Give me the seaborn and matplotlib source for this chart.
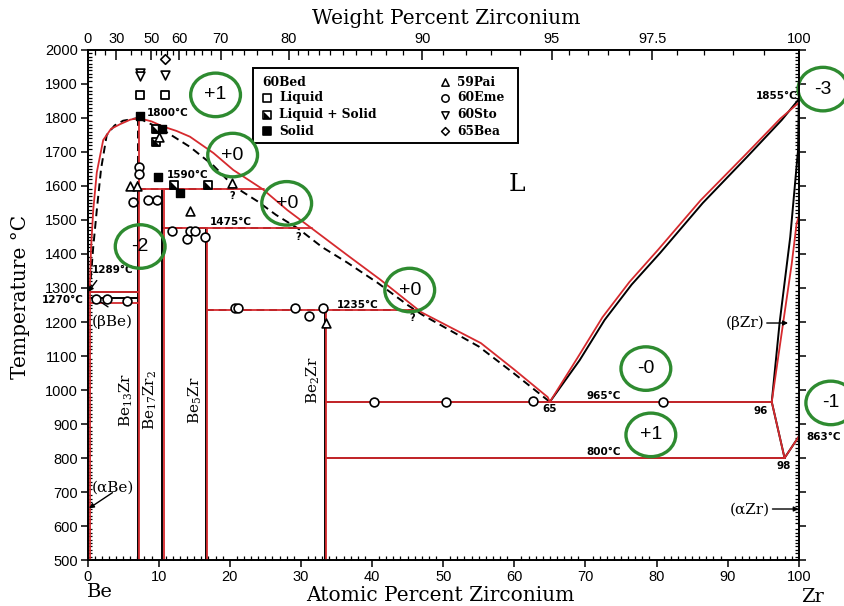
import matplotlib
matplotlib.use("Agg")
import matplotlib.pyplot as plt
from matplotlib.patches import Ellipse, Rectangle
from matplotlib.path import Path
from matplotlib.ticker import MultipleLocator, FixedLocator
import numpy as np
import seaborn as sns

sns.set_theme(style="ticks", rc={"axes.edgecolor": "black", "xtick.color": "black",
                                 "ytick.color": "black", "text.color": "black",
                                 "axes.labelcolor": "black"})
plt.rcParams["font.family"] = ["DejaVu Sans"]
plt.rcParams["mathtext.fontset"] = "dejavuserif"

RED = "#d62a2e"
GREEN = "#2e8b30"
SERIF = "DejaVu Serif"
SANS = "Liberation Sans"

# ---------------- phase boundaries: at.% Zr vs temperature (°C) ----------------
# Be-rich liquidus (assessed, red)
liq_be_red_x = [0.3, 0.5, 0.8, 1.3, 2.2, 3.3, 4.6, 6.0, 7.14]
liq_be_red_t = [1289, 1420, 1529, 1640, 1735, 1768, 1782, 1795, 1800]
liq_mid_red_x = [7.14, 9.0, 10.6, 12.5, 14.4, 17.7, 20.5, 24.6, 28.1, 31.8, 36.5, 41.2, 46.9, 55.3, 60.0, 64.7, 65.0]
liq_mid_red_t = [1800, 1790, 1775, 1762, 1745, 1697, 1647, 1591, 1529, 1471, 1397, 1324, 1229, 1138, 1060, 979, 965]
# Be-rich liquidus (earlier diagram, black dashed)
liq_be_blk_x = [0.3, 0.8, 1.3, 1.9, 2.7, 3.8, 5.0, 7.14]
liq_be_blk_t = [1289, 1420, 1529, 1650, 1750, 1778, 1792, 1800]
liq_mid_blk_x = [7.14, 10.6, 14.4, 17.7, 20.5, 23.9, 26.5, 29.6, 33.0, 36.5, 40.8, 45.0, 47.0, 55.0, 60.0, 65.0]
liq_mid_blk_t = [1800, 1765, 1715, 1660, 1600, 1555, 1515, 1475, 1420, 1375, 1315, 1250, 1222, 1128, 1048, 965]
# Zr-rich liquidus
liq_zr_blk_x = [65.0, 69.2, 72.7, 76.5, 80.5, 86.5, 92.7, 97.6, 100.0]
liq_zr_blk_t = [965, 1088, 1206, 1310, 1403, 1550, 1685, 1794, 1855]
liq_zr_red_x = [65.0, 68.9, 72.4, 76.2, 80.2, 86.2, 92.5, 97.4, 100.0]
liq_zr_red_t = [965, 1095, 1214, 1318, 1412, 1558, 1692, 1798, 1845]
# (betaZr) solvus
bzr_blk_x = [96.2, 97.3, 98.8, 99.9, 100.0]
bzr_blk_t = [965, 1197, 1450, 1706, 1855]
bzr_red_x = [96.2, 97.8, 99.0, 99.7, 100.0]
bzr_red_t = [965, 1197, 1370, 1490, 1510]
# eutectoid corner on the Zr side
azr_x = [96.2, 98.0, 100.0]
azr_t = [965, 800, 863]
# (Be) solvus
be_solvus_x = [0.3, 0.3]
be_solvus_t = [500, 1289]

# compounds: composition (at.% Zr) and upper temperature
cmp_names = ["Be$_{13}$Zr", "Be$_{17}$Zr$_2$", "Be$_5$Zr", "Be$_2$Zr"]
cmp_x = [7.14, 10.53, 16.67, 33.33]
cmp_top = [1800, 1590, 1475, 1235]

# invariant lines: temperature, left end, right end (red), right end (black)
inv_t = [1590, 1475, 1235, 965, 800]
inv_x0 = [7.14, 10.53, 16.67, 33.33, 33.33]
inv_x1_red = [24.8, 31.6, 46.6, 96.2, 98.0]
inv_x1_blk = [20.9, 29.6, 45.7, 96.2, 98.0]

# Be-rich transformation lines
bebe_t_blk = [1289, 1270]
bebe_t_red = [1288, 1257]

# ---------------- experimental points ----------------
liq_pts_x = [7.4, 10.9]
liq_pts_t = [1868, 1868]
ls_pts_x = [9.6, 9.6, 12.2, 17.0]
ls_pts_t = [1768, 1730, 1603, 1603]
sol_pts_x = [7.4, 10.4, 9.9, 13.0]
sol_pts_t = [1806, 1768, 1627, 1579]
pai_x = [10.0, 6.0, 7.0, 20.3, 14.4, 33.5]
pai_t = [1744, 1600, 1600, 1608, 1526, 1197]
eme_x = [7.3, 7.3, 6.4, 8.5, 9.8, 11.9, 14.0, 14.4, 15.1, 16.5, 1.2, 2.7, 5.5,
         20.8, 21.2, 29.1, 31.1, 33.1, 40.3, 50.4, 62.6, 80.9]
eme_t = [1655, 1635, 1553, 1559, 1559, 1468, 1444, 1468, 1468, 1450, 1268, 1268, 1263,
         1240, 1240, 1240, 1218, 1240, 965, 965, 968, 965]
sto_x = [7.4, 7.4, 10.9]
sto_t = [1932, 1924, 1926]
bea_x = [10.9]
bea_t = [1974]

# ---------------- assessment marks ----------------
mark_text = ["+1", "+0", "+0", "-2", "+0", "-3", "-0", "+1", "-1"]
mark_x = [18.0, 20.4, 28.0, 7.4, 45.3, 103.4, 78.5, 79.2, 104.5]
mark_t = [1868, 1691, 1549, 1422, 1294, 1885, 1063, 868, 962]

# weight-percent scale on top
M_BE, M_ZR = 9.012, 91.224
top_major_wt = [0, 30, 50, 60, 70, 80, 90, 95, 97.5, 100]
top_major_lbl = ["0", "30", "50", "60", "70", "80", "90", "95", "97.5", "100"]
top_minor_wt = ([10, 20, 40, 45, 52, 54, 56, 58, 62, 64, 66, 68, 72, 74, 76, 78]
                + list(range(81, 90)) + [91, 92, 93, 94]
                + [95.5, 96, 96.5, 97, 98, 98.5, 99, 99.5])


def wt_to_at(w):
    w = np.asarray(w, dtype=float)
    nz = w / M_ZR
    nb = (100.0 - w) / M_BE
    return 100.0 * nz / (nz + nb)


def draw(ax, x, t, color, ls="-", lw=1.3, z=3):
    sns.lineplot(x=x, y=t, sort=False, estimator=None, color=color,
                 linestyle=ls, linewidth=lw, ax=ax, zorder=z)


fig = plt.figure(figsize=(8.45, 6.06), dpi=100)
ax = fig.add_axes([0.1036, 0.0759, 0.8417, 0.8416])
ax.set_xlim(0, 100)
ax.set_ylim(500, 2000)

DASH = (0, (4, 2.5))

# black (earlier) boundaries
draw(ax, liq_be_blk_x, liq_be_blk_t, "black", DASH, 1.4, 2)
draw(ax, liq_mid_blk_x, liq_mid_blk_t, "black", DASH, 1.4, 2)
draw(ax, liq_zr_blk_x, liq_zr_blk_t, "black", "-", 1.4, 2)
draw(ax, bzr_blk_x, bzr_blk_t, "black", "-", 1.4, 2)
draw(ax, azr_x, azr_t, "black", "-", 1.4, 2)
for x, top in zip(cmp_x, cmp_top):
    if top > 1600:
        draw(ax, [x, x], [500, 1590], "black", "-", 1.4, 2)
        draw(ax, [x, x], [1590, top], "black", DASH, 1.4, 2)
    else:
        draw(ax, [x, x], [500, top], "black", "-", 1.4, 2)
for t, x0, x1 in zip(inv_t, inv_x0, inv_x1_blk):
    draw(ax, [x0, x1], [t, t], "black", DASH if t > 1000 else "-", 1.4, 2)
for t in bebe_t_blk:
    draw(ax, [0, 7.14], [t, t], "black", "-", 1.4, 2)

# red (assessed) boundaries
draw(ax, liq_be_red_x, liq_be_red_t, RED)
draw(ax, liq_mid_red_x, liq_mid_red_t, RED)
draw(ax, liq_zr_red_x, liq_zr_red_t, RED)
draw(ax, bzr_red_x, bzr_red_t, RED)
draw(ax, azr_x, azr_t, RED)
draw(ax, be_solvus_x, be_solvus_t, RED)
for x, top in zip(cmp_x, cmp_top):
    draw(ax, [x + 0.15, x + 0.15], [500, top], RED)
for t, x0, x1 in zip(inv_t, inv_x0, inv_x1_red):
    draw(ax, [x0 + 0.15, x1], [t, t], RED)
for t in bebe_t_red:
    draw(ax, [0.3, 7.3], [t, t], RED)

# experimental points
half_sq = Path([(-1, -1), (1, -1), (-1, 1), (-1, -1)])
mk = dict(ax=ax, zorder=5, legend=False, clip_on=False)
sns.scatterplot(x=liq_pts_x, y=liq_pts_t, marker="s", s=32, color="white", edgecolor="black", linewidth=1.3, **mk)
sns.scatterplot(x=ls_pts_x, y=ls_pts_t, marker="s", s=32, color="white", edgecolor="black", linewidth=1.3, **mk)
sns.scatterplot(x=ls_pts_x, y=ls_pts_t, marker=half_sq, s=32, color="black", linewidth=0, **mk)
sns.scatterplot(x=sol_pts_x, y=sol_pts_t, marker="s", s=32, color="black", edgecolor="black", linewidth=1, **mk)
sns.scatterplot(x=pai_x, y=pai_t, marker="^", s=40, color="white", edgecolor="black", linewidth=1.2, **mk)
sns.scatterplot(x=eme_x, y=eme_t, marker="o", s=40, color="white", edgecolor="black", linewidth=1.2, **mk)
sns.scatterplot(x=sto_x, y=sto_t, marker="v", s=40, color="white", edgecolor="black", linewidth=1.2, **mk)
sns.scatterplot(x=bea_x, y=bea_t, marker="D", s=24, color="white", edgecolor="black", linewidth=1.2, **mk)

# legend box
lg_x0, lg_y0, lg_w, lg_h = 0.2326, 0.8176, 0.3725, 0.147
ax.add_patch(Rectangle((lg_x0, lg_y0), lg_w, lg_h, transform=ax.transAxes, fill=True,
                       facecolor="white", edgecolor="black", lw=1.4, zorder=6))
rows_y = [0.937, 0.906, 0.873, 0.841]
lfont = dict(fontfamily=SERIF, fontweight="bold", fontsize=8.8, va="center", ha="left",
             transform=ax.transAxes, zorder=7)
ax.text(0.2453, rows_y[0], "60Bed", **lfont)
left_items = [("Liquid", "s", "white"), ("Liquid + Solid", "half", None), ("Solid", "s", "black")]
for (lab, m, fc), yy in zip(left_items, rows_y[1:]):
    if m == "half":
        ax.scatter([0.2523], [yy], marker="s", s=26, facecolor="white", edgecolor="black",
                   lw=1.2, transform=ax.transAxes, zorder=7)
        ax.scatter([0.2523], [yy], marker=half_sq, s=26, facecolor="black", lw=0,
                   transform=ax.transAxes, zorder=7)
    else:
        ax.scatter([0.2523], [yy], marker=m, s=26, facecolor=fc, edgecolor="black",
                   lw=1.2, transform=ax.transAxes, zorder=7)
    ax.text(0.2692, yy, lab, **lfont)
right_items = [("59Pai", "^", 28), ("60Eme", "o", 28), ("60Sto", "v", 28), ("65Bea", "D", 16)]
for (lab, m, sz), yy in zip(right_items, rows_y):
    ax.scatter([0.5025], [yy], marker=m, s=sz, facecolor="white", edgecolor="black",
               lw=1.1, transform=ax.transAxes, zorder=7)
    ax.text(0.5193, yy, lab, **lfont)

# temperature annotations
bold = dict(fontfamily="DejaVu Sans", fontweight="bold", fontsize=7.5, zorder=6)
ax.text(8.36, 1815, "1800°C", ha="left", va="center", **bold)
ax.text(11.2, 1632, "1590°C", ha="left", va="center", **bold)
ax.text(17.2, 1494, "1475°C", ha="left", va="center", **bold)
ax.text(35.1, 1250, "1235°C", ha="left", va="center", **bold)
ax.text(70.2, 982, "965°C", ha="left", va="center", **bold)
ax.text(70.2, 818, "800°C", ha="left", va="center", **bold)
ax.text(64.9, 944, "65", ha="center", va="center", **bold)
ax.text(94.6, 938, "96", ha="center", va="center", **bold)
ax.text(97.9, 776, "98", ha="center", va="center", **bold)
ax.text(99.8, 1865, "1855°C", ha="right", va="center", **bold)
ax.text(101.0, 862, "863°C", ha="left", va="center", clip_on=False, **bold)
ax.text(0.6, 1352, "1289°C", ha="left", va="center", **bold)
ax.text(-0.5, 1265, "1270°C", ha="right", va="center", clip_on=False, **bold)
for qx, qt in [(20.3, 1571), (29.6, 1450), (45.7, 1212)]:
    ax.text(qx, qt, "?", ha="center", va="center", fontsize=7, fontweight="bold")

# phase labels
for name, x in zip(cmp_names, [5.4, 8.8, 15.1, 31.8]):
    tt = 1029 if x > 30 else 970
    ax.text(x, tt, name, rotation=90, ha="center", va="center", fontfamily=SERIF, fontsize=11)
ph = dict(fontfamily=SERIF, fontsize=11, va="center")
ax.text(0.6, 1200, "(βBe)", ha="left", **ph)
ax.text(0.6, 712, "(αBe)", ha="left", **ph)
ax.text(95.2, 1197, "(βZr)", ha="right", **ph)
ax.text(95.9, 647, "(αZr)", ha="right", **ph)
ax.text(60.4, 1603, "L", ha="center", va="center", fontfamily=SERIF, fontsize=18)

arw = dict(arrowstyle="-|>", color="black", lw=1.0, mutation_scale=7, shrinkA=0, shrinkB=0)
ax.annotate("", xy=(0.1, 1289), xytext=(1.3, 1322), arrowprops=arw)
ax.annotate("", xy=(1.2, 1268), xytext=(3.2, 1240), arrowprops=dict(arrowstyle="-", lw=1.0, color="black"))
ax.annotate("", xy=(0.2, 652), xytext=(3.5, 698), arrowprops=arw)
ax.annotate("", xy=(98.5, 1197), xytext=(95.5, 1197), arrowprops=arw)
ax.annotate("", xy=(100.0, 650), xytext=(96.3, 650), arrowprops=arw)

# assessment marks
for txt, x, t in zip(mark_text, mark_x, mark_t):
    ax.add_patch(Ellipse((x, t), 7.0, 128, fill=False, edgecolor=GREEN, lw=2.4,
                         clip_on=False, zorder=8))
    ax.text(x, t, txt, ha="center", va="center", fontfamily=SANS, fontsize=14,
            clip_on=False, zorder=9)

# axes, ticks
ax.xaxis.set_major_locator(MultipleLocator(10))
ax.xaxis.set_minor_locator(MultipleLocator(1))
ax.yaxis.set_major_locator(MultipleLocator(100))
ax.yaxis.set_minor_locator(MultipleLocator(10))
ax.tick_params(which="major", direction="out", length=5, width=1.1, labelsize=10.5, pad=2,
               right=True, labelright=False)
ax.tick_params(which="minor", direction="in", length=3, width=0.9, right=True)
for lab in ax.get_xticklabels() + ax.get_yticklabels():
    lab.set_fontfamily(SANS)
for sp in ax.spines.values():
    sp.set_linewidth(1.2)
    sp.set_visible(True)
ax.set_xlabel("")
ax.set_ylabel("")

top = ax.twiny()
top.set_xlim(ax.get_xlim())
top.xaxis.set_major_locator(FixedLocator(wt_to_at(top_major_wt)))
top.set_xticklabels(top_major_lbl, fontfamily=SANS, fontsize=10.5)
top.xaxis.set_minor_locator(FixedLocator(wt_to_at(top_minor_wt)))
top.tick_params(which="major", direction="in", length=7, width=1.1, pad=3)
top.tick_params(which="minor", direction="in", length=3.5, width=0.9)
top.grid(False)

fig.text(0.528, 0.970, "Weight Percent Zirconium", ha="center", va="center",
         fontfamily=SERIF, fontsize=14.5)
fig.text(0.521, 0.018, "Atomic Percent Zirconium", ha="center", va="center",
         fontfamily=SERIF, fontsize=14.5)
fig.text(0.024, 0.51, "Temperature °C", ha="center", va="center", rotation=90,
         fontfamily=SERIF, fontsize=14.5)
fig.text(0.118, 0.023, "Be", ha="center", va="center", fontfamily=SERIF, fontsize=14)
fig.text(0.961, 0.015, "Zr", ha="center", va="center", fontfamily=SERIF, fontsize=14)

fig.savefig("out.png", dpi=100)
